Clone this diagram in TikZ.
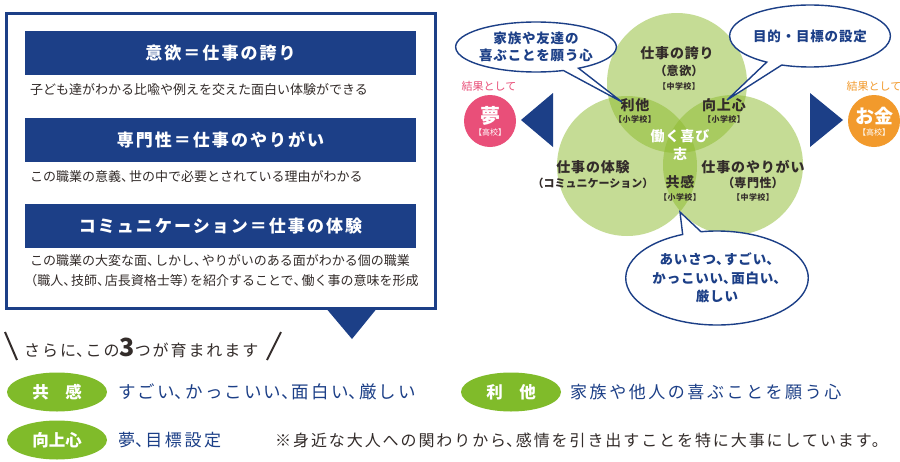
\documentclass[tikz,border=0pt]{standalone}
\usepackage{fontspec}
\setmainfont{Noto Sans CJK JP}
\newfontfamily\jpsp[LetterSpace=12]{Noto Sans CJK JP}
\newfontfamily\jpss[LetterSpace=6]{Noto Sans CJK JP}
\newfontfamily\jpwide[LetterSpace=15]{Noto Sans CJK JP}
\usepackage{xcolor}
\usetikzlibrary{positioning,shapes.geometric,shapes.callouts}
\definecolor{navy}{HTML}{1C3F87}
\definecolor{venn}{HTML}{8DBB2D}
\definecolor{leaf}{HTML}{80BB2A}
\definecolor{pinkc}{HTML}{E94F79}
\definecolor{orangec}{HTML}{F29A2C}
\definecolor{ink}{HTML}{332C2A}
% half-width punctuation
\newcommand\tn{\makebox[.6em][l]{、}}
\newcommand\mr{\makebox[.6em][l]{。}}
\newcommand\lp{\makebox[.55em][r]{（}}
\newcommand\rp{\makebox[.55em][l]{）}}

\begin{document}
\begin{tikzpicture}[x=1pt, y=-1pt, node distance=0pt]
\tikzstyle{bar}=[fill=navy, minimum width=391pt, minimum height=44pt, text=white, font=\jpsp\bfseries\fontsize{17}{20}\selectfont]
\tikzstyle{desc}=[anchor=west, inner sep=0pt, text=ink, align=left, font=\fontsize{13}{20}\selectfont]
\tikzstyle{ring}=[circle, fill=venn, fill opacity=.5, minimum size=140pt, inner sep=0pt]
\tikzstyle{big}=[text=ink, inner sep=0pt, font=\jpss\bfseries\fontsize{14}{17}\selectfont]
\tikzstyle{sub}=[text=ink, inner sep=0pt, font=\jpss\bfseries\fontsize{12}{14}\selectfont]
\tikzstyle{school}=[text=ink, inner sep=0pt, font=\jpss\bfseries\fontsize{8}{9}\selectfont]
\tikzstyle{bubble}=[ellipse callout, draw=navy, line width=1.4pt, fill=white, text=navy, align=center, inner sep=0pt, callout pointer arc=12]
\tikzstyle{result}=[circle, minimum size=52pt, inner sep=0pt]
\tikzstyle{tag}=[ellipse, fill=leaf, minimum width=100pt, minimum height=39pt, text=white, font=\bfseries\fontsize{16.5}{18}\selectfont]
\tikzstyle{say}=[anchor=west, inner sep=0pt, text=navy, font=\jpwide\fontsize{17}{19}\selectfont]

\useasboundingbox (0,0) rectangle (900,461);
\fill[white] (0,0) rectangle (900,461);

% left panel
\draw[navy, line width=3pt] (6,13) rectangle (435,308);
\fill[navy] (325,307) -- (378,307) -- (352,339) -- cycle;
\node[bar] (motive) at (220.5,53) {意欲＝仕事の誇り};
\node[desc] (motiveD) at (30,90) {子ども達がわかる比喩や例えを交えた面白い体験ができる};
\node[bar] (skill) at (220.5,140) {専門性＝仕事のやりがい};
\node[desc] (skillD) at (30,177) {この職業の意義\tn 世の中で必要とされている理由がわかる};
\node[bar] (comm) at (220.5,226) {コミュニケーション＝仕事の体験};
\node[desc, anchor=north west] (commD) at (30,254) {この職業の大変な面\tn しかし\tn やりがいのある面がわかる個の職業\\\lp 職人\tn 技師\tn 店長資格士等\rp を紹介することで\tn 働く事の意味を形成};

% venn
\node[ring] (pride) at (677,83) {};
\node[ring] (exper) at (627,166) {};
\node[ring] (worth) at (733,165) {};

\node[big] (prideT) at (677,53) {仕事の誇り};
\node[sub] (prideS) at (679,71) {\lp 意欲\rp};
\node[school] (prideL) at (679,86) {【中学校】};
\node[big] (ritaT) at (635,105) {利他};
\node[school] (ritaL) at (635,119) {【小学校】};
\node[big] (upT) at (724,105) {向上心};
\node[school] (upL) at (724,119) {【小学校】};
\node[big, text=white] (joyT) at (680,136) {働く喜び};
\node[big, text=white] (joyS) at (680,154) {志};
\node[big] (experT) at (593,167) {仕事の体験};
\node[sub, font=\bfseries\fontsize{11}{13}\selectfont] (experS) at (593,183) {\lp コミュニケーション\rp};
\node[big] (kyoT) at (680,182) {共感};
\node[school] (kyoL) at (680,197) {【小学校】};
\node[big] (worthT) at (753,167) {仕事のやりがい};
\node[sub] (worthS) at (753,183) {\lp 専門性\rp};
\node[school] (worthL) at (753,197) {【中学校】};

% bubbles
\coordinate (ritaTip) at (622,102);
\coordinate (upTip) at (727,100);
\coordinate (kyoTip) at (680,212);
\node[bubble, minimum width=142pt, minimum height=50pt, callout absolute pointer={(ritaTip)}, font=\jpss\bfseries\fontsize{13.5}{17}\selectfont] (ritaB) at (536,47) {家族や友達の\\喜ぶことを願う心};
\node[bubble, minimum width=142pt, minimum height=62pt, callout absolute pointer={(upTip)}, font=\jpss\bfseries\fontsize{13.5}{17}\selectfont] (upB) at (810,36) {目的・目標の設定};
\node[bubble, minimum width=156pt, minimum height=94pt, callout absolute pointer={(kyoTip)}, font=\jpss\bfseries\fontsize{13.5}{18.5}\selectfont] (kyoB) at (717,278) {あいさつ\tn すごい\tn\\かっこいい\tn 面白い\tn\\厳しい};

% results
\fill[navy] (521,120) -- (553,93) -- (553,147) -- cycle;
\fill[navy] (843,120) -- (810,93) -- (810,147) -- cycle;
\node[text=pinkc, font=\fontsize{11}{12}\selectfont] (dreamH) at (489,86) {結果として};
\node[result, fill=pinkc] (dream) at (490,121) {};
\node[text=white, font=\bfseries\fontsize{20}{20}\selectfont] (dreamT) at (490,116) {夢};
\node[text=white, font=\fontsize{8}{8}\selectfont] (dreamL) at (490,132) {【高校】};
\node[text=orangec, font=\fontsize{11}{12}\selectfont] (moneyH) at (874,86) {結果として};
\node[result, fill=orangec] (money) at (874,121) {};
\node[text=white, font=\bfseries\fontsize{19}{19}\selectfont] (moneyT) at (874,116) {お金};
\node[text=white, font=\fontsize{8}{8}\selectfont] (moneyL) at (874,132) {【高校】};

% bottom
\draw[ink, line width=2pt] (5,332) -- (17,360);
\draw[ink, line width=2pt] (281,332) -- (267,360);
\node[anchor=west, inner sep=0pt, text=ink, font=\jpsp\fontsize{16}{18}\selectfont] (more) at (24,348) {さらに\tn この{\fontsize{25}{25}\selectfont\bfseries 3}つが育まれます};

\node[tag] (kyo) at (57,392) {共　感};
\node[say, font=\jpsp\fontsize{17.5}{19}\selectfont] (kyoS) at (118,392) {すごい\tn かっこいい\tn 面白い\tn 厳しい};
\node[tag] (rita) at (511,392) {利　他};
\node[say] (ritaS) at (570,392) {家族や他人の喜ぶことを願う心};
\node[tag] (up) at (57,440) {向上心};
\node[say] (upS) at (118,440) {夢\tn 目標設定};
\node[anchor=west, inner sep=0pt, text=ink, font=\jpsp\fontsize{16}{18}\selectfont] (note) at (275,440) {※身近な大人への関わりから\tn 感情を引き出すことを特に大事にしています\mr};
\end{tikzpicture}
\end{document}
